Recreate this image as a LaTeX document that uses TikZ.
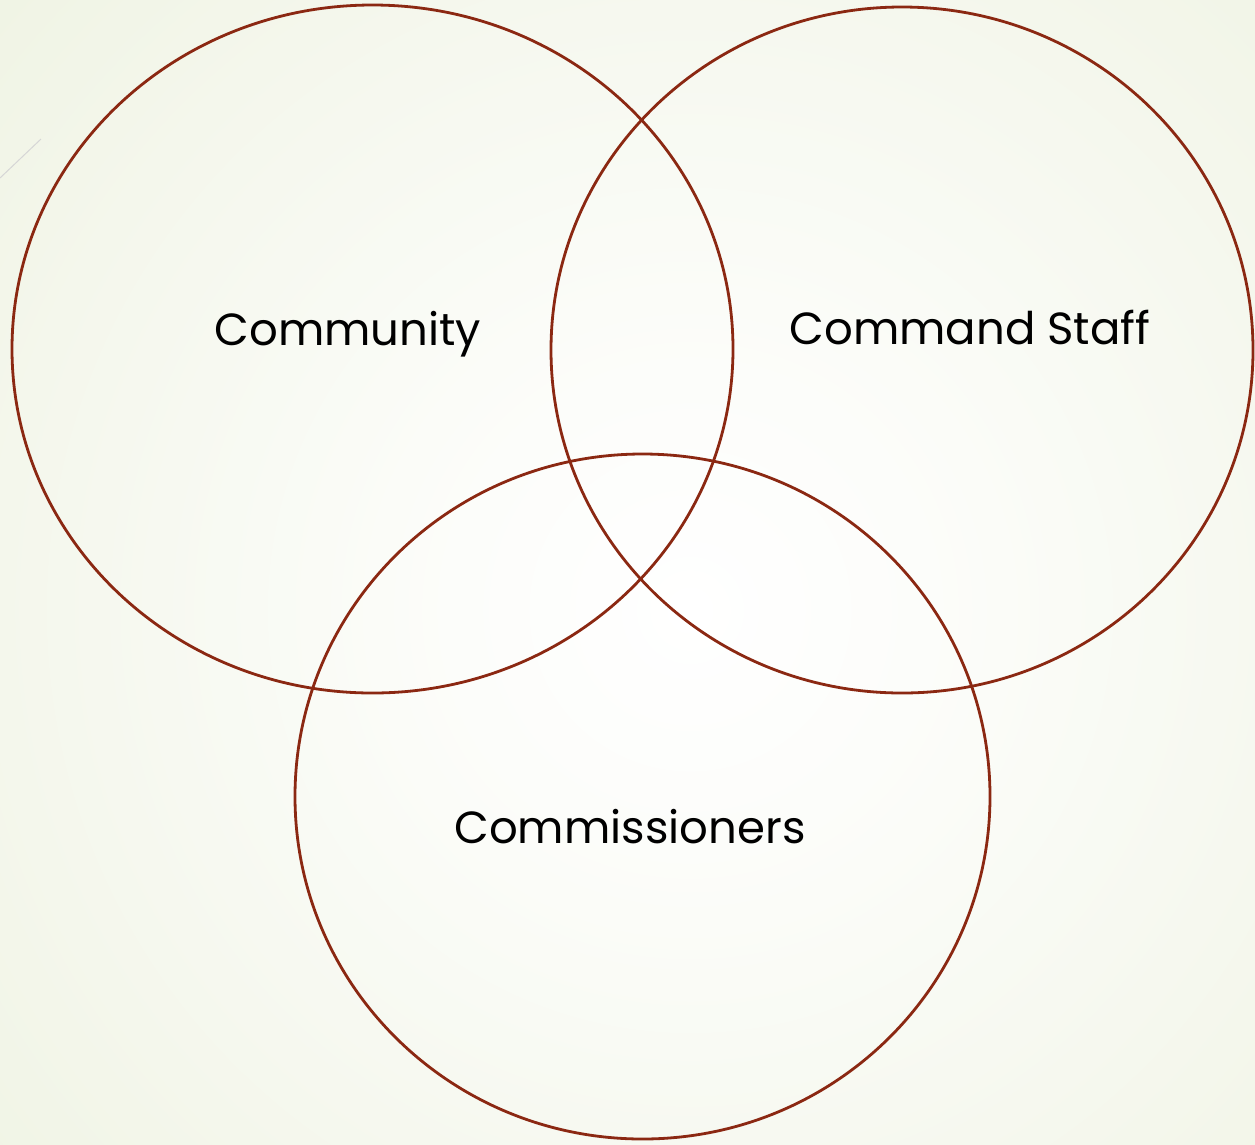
\documentclass[tikz,border=0pt]{standalone}
\usepackage{fontspec}
\setmainfont{Poppins}
\definecolor{ringcol}{HTML}{8B2812}
\definecolor{bgout}{HTML}{E7EDD4}
\definecolor{bgmid}{HTML}{F3F6EA}
\pgfdeclareradialshading{bgshade}{\pgfpoint{0bp}{0bp}}{color(0bp)=(white);color(5bp)=(white!70!bgmid);color(13bp)=(bgmid);color(25bp)=(bgout);color(50bp)=(bgout)}
\begin{document}
\begin{tikzpicture}[x=1pt,y=-1pt,
  ring/.style={draw=ringcol,line width=2.8pt},
  lbl/.style={font=\fontsize{45}{50}\selectfont,text=black,inner sep=0pt,anchor=base}]
\useasboundingbox (0,0) rectangle (1255,1144);
\begin{scope}
\clip (0,0) rectangle (1255,1144);
\shade[shading=bgshade] (690,610) circle[radius=1450];
\end{scope}
\draw[black!16,line width=1pt] (0,178) -- (41,139);
\draw[ring] (372.5,349) ellipse[x radius=360.5,y radius=344];
\draw[ring] (902,350) ellipse[x radius=351,y radius=343];
\draw[ring] (642.5,796.5) ellipse[x radius=347.5,y radius=342.5];
\node[lbl] (community) at (348,345) {Community};
\node[lbl] (staff) at (970,344) {Command Staff};
\node[lbl] (comm) at (630,843) {Commissioners};
\end{tikzpicture}
\end{document}
